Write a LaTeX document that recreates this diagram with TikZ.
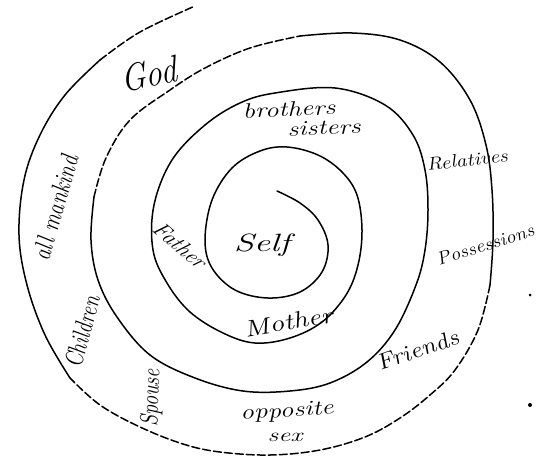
\documentclass[tikz,border=0pt]{standalone}
\usepackage{fontspec}
\begin{document}
\begin{tikzpicture}[x=1pt,y=-1pt,
  spiral/.style={line width=1.5pt, line cap=round, line join=round},
  brk/.style={dash pattern=on 8pt off 3pt},
  hand/.style={font=\itshape\fontsize{#1}{#1}\selectfont, inner sep=0pt}]
\fill[white] (0,0) rectangle (545,460);
\useasboundingbox (0,0) rectangle (545,460);
% spiral, solid part (turns 1-3)
\draw[spiral] plot[smooth,tension=0.6] coordinates {
(277,191) (300,203) (318,220) (328,245) (322,272) (300,292) (268,298) (235,290)
(212,268) (205,240) (212,200) (232,168) (260,151) (287,147) (318,155) (342,172)
(357,195) (362,230) (358,265) (346,295) (322,322) (290,338) (255,343) (223,333)
(190,312) (167,283) (153,250) (154,205) (172,160) (205,125) (240,103) (275,93)
(335,88) (385,105) (413,135) (425,170) (428,210) (425,250) (416,285) (395,330)
(367,362) (330,383) (290,391) (243,391) (195,378) (150,355) (117,317) (98,280)
(91,240) (94,197)};
\draw[spiral,brk] plot[smooth,tension=0.6] coordinates {
(94,197) (106,158) (130,120) (170,90) (205,68) (250,48) (300,36)};
\draw[spiral] plot[smooth,tension=0.6] coordinates {
(300,36) (352,33) (400,40) (440,62) (470,100) (486,145) (492,190) (493,240) (490,285)};
\draw[spiral,brk] plot[smooth,tension=0.6] coordinates {
(490,285) (478,330) (455,370) (430,395) (400,418) (365,437) (320,450) (270,455)
(220,452) (183,444) (140,427) (100,405) (70,378)};
\draw[spiral] plot[smooth,tension=0.6] coordinates {
(70,378) (45,335) (27,285) (19,235) (24,180) (40,135) (65,95) (100,60)};
\draw[spiral,brk] plot[smooth,tension=0.6] coordinates {
(100,60) (140,32) (195,6)};
% stray dots
\fill (530,295) circle (1.5pt);
\fill (530,405) circle (2pt);
% labels
\node[hand=25, xscale=1.45] (self) at (262,245) {Self};
\node[hand=20, xscale=1.2, rotate=-45] (father) at (180,245) {Father};
\node[hand=23, xscale=1.28, rotate=12] (mother) at (288,322) {Mother};
\node[hand=21, xscale=1.3, rotate=3] (brothers) at (289,109) {brothers};
\node[hand=21, xscale=1.3, rotate=3] (sisters) at (324,128) {sisters};
\node[hand=18, xscale=1.2, rotate=8] (relatives) at (467,160) {Relatives};
\node[hand=18, xscale=1.15, rotate=20] (possessions) at (485,245) {Possessions};
\node[hand=22, xscale=1.25, rotate=23] (friends) at (417,350) {Friends};
\node[hand=21, xscale=1.3, rotate=5] (opposite) at (287,412) {opposite};
\node[hand=19, xscale=1.4] (sex) at (285,437) {sex};
\node[hand=20, xscale=1.25, rotate=88] (spouse) at (152,398) {Spouse};
\node[hand=20, xscale=1.3, rotate=78] (children) at (82,332) {Children};
\node[hand=21, xscale=1.25, rotate=77] (mankind) at (55,208) {all mankind};
\node[hand=38, xscale=0.85, rotate=10] (god) at (149,74) {God};
\end{tikzpicture}
\end{document}
